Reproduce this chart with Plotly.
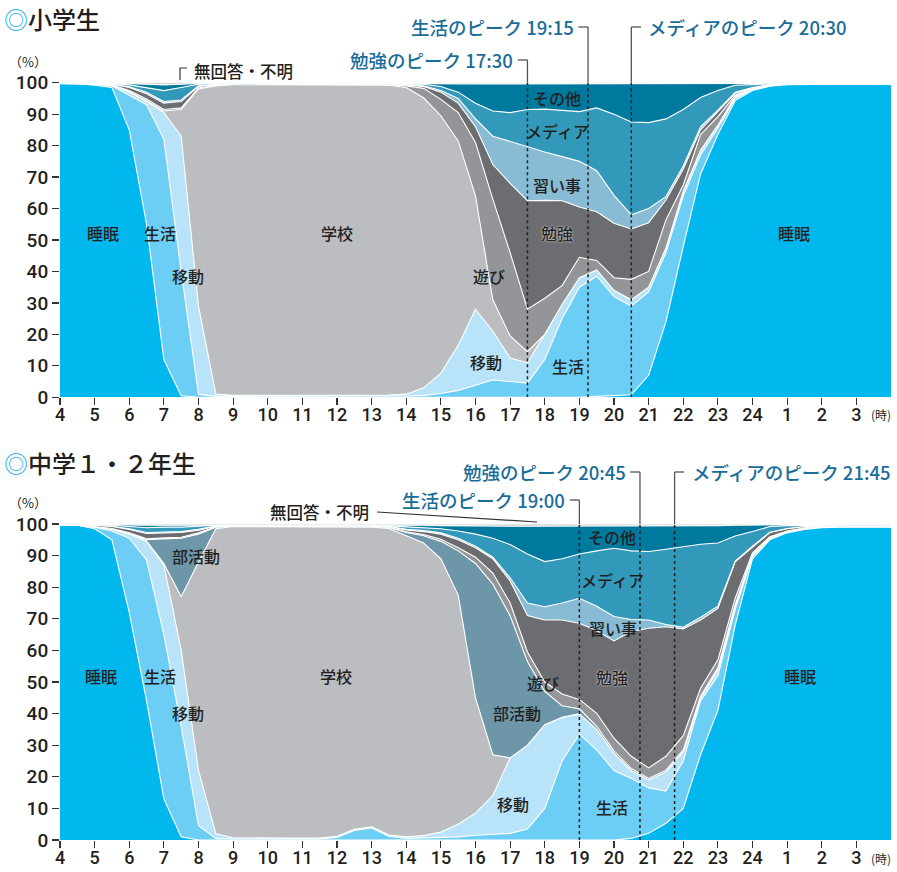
import plotly.graph_objects as go

W, H = 897, 872

HOURS = [4, 4.5, 5, 5.5, 6, 6.5, 7, 7.5, 8, 8.5, 9, 9.5, 10, 10.5, 11, 11.5,
         12, 12.5, 13, 13.5, 14, 14.5, 15, 15.5, 16, 16.5, 17, 17.5, 18, 18.5,
         19, 19.5, 20, 20.5, 21, 21.5, 22, 22.5, 23, 23.5, 24, 24.5, 25, 25.5,
         26, 26.5, 27, 27.5, 28]
TICK_VALS = [4, 5, 6, 7, 8, 9, 10, 11, 12, 13, 14, 15, 16, 17, 18, 19, 20, 21,
             22, 23, 24, 25, 26, 27]
TICK_TEXT = ["4", "5", "6", "7", "8", "9", "10", "11", "12", "13", "14", "15",
             "16", "17", "18", "19", "20", "21", "22", "23", "24", "1", "2", "3"]

# ---- 小学生: cumulative share (%) up to the top of each activity ----
ELEM_SLEEP = [99.7, 99.7, 99.2, 98.5, 85, 55, 12, 0.5, 0, 0, 0, 0, 0, 0, 0, 0,
              0, 0, 0, 0, 0, 0, 0, 0, 0, 0, 0, 0, 0, 0, 0, 0.3, 0.5, 0.8, 7, 24,
              48, 71, 83.5, 94.3, 97.5, 98.9, 99.4, 99.5, 99.5, 99.5, 99.5, 99.5, 99.5]
ELEM_LIFE = [99.8, 99.8, 99.5, 99.0, 96, 93, 82, 40, 1, 0.3, 0.3, 0.3, 0.3, 0.3,
             0.3, 0.3, 0.3, 0.3, 0.3, 0.3, 0.4, 0.6, 1.2, 2.2, 3.9, 5.5, 5, 4.5,
             12, 25, 35, 38.5, 32, 29, 33.5, 46, 64, 77, 85.5, 95, 97.8, 99.1,
             99.5, 99.65, 99.65, 99.65, 99.65, 99.65, 99.65]
ELEM_MOVE = [99.8, 99.8, 99.6, 99.2, 97, 94, 90.5, 83, 29, 1, 0.6, 0.6, 0.6, 0.6,
             0.6, 0.6, 0.6, 0.6, 0.6, 0.7, 1.0, 3.0, 7.7, 16.5, 28, 21, 12.5, 11,
             20, 29.5, 38, 40.5, 34, 31, 35, 47.5, 65.5, 78.5, 86.5, 95.6, 98, 99.2,
             99.6, 99.7, 99.7, 99.7, 99.7, 99.7, 99.7]
ELEM_SCHOOL = [99.8, 99.8, 99.6, 99.2, 97.2, 94.3, 91, 91.5, 98, 99, 99.4, 99.4,
               99.4, 99.4, 99.4, 99.4, 99.4, 99.4, 99.4, 99.2, 98.5, 95.2, 89.5,
               81.5, 64, 31, 19.5, 14.5, 20, 29.5, 38, 40.5, 34, 31, 35, 47.5,
               65.5, 78.5, 86.5, 95.6, 98, 99.2, 99.6, 99.7, 99.7, 99.7, 99.7, 99.7, 99.7]
ELEM_PLAY = [99.8, 99.8, 99.6, 99.3, 97.5, 94.8, 91.5, 92, 98.3, 99.2, 99.5, 99.5,
             99.5, 99.5, 99.5, 99.5, 99.5, 99.5, 99.5, 99.4, 99.0, 98.2, 94.7, 90.5,
             81, 63, 46, 28, 31.5, 35.5, 44.5, 43.5, 38, 37.5, 40, 56.4, 67.5, 83.5,
             89.2, 96, 98.2, 99.3, 99.6, 99.7, 99.7, 99.7, 99.7, 99.7, 99.7]
ELEM_STUDY = [99.8, 99.8, 99.7, 99.5, 98.5, 96.5, 93.5, 94, 98.8, 99.4, 99.6, 99.6,
              99.6, 99.6, 99.6, 99.6, 99.6, 99.6, 99.6, 99.5, 99.3, 98.8, 97.0, 93.5,
              86, 74, 68, 62.5, 62.6, 62.5, 60.5, 59, 55.3, 53.5, 55.5, 62.7, 72.5, 85,
              90.8, 96.6, 98.4, 99.4, 99.65, 99.7, 99.7, 99.7, 99.7, 99.7, 99.7]
ELEM_LESSON = [99.8, 99.8, 99.7, 99.5, 98.7, 97, 94, 94.5, 99, 99.5, 99.6, 99.6,
               99.6, 99.6, 99.6, 99.6, 99.6, 99.6, 99.6, 99.6, 99.4, 99.0, 97.5, 95,
               88.5, 83, 81.3, 79.8, 78, 76.5, 75, 72, 64.2, 58, 60, 63.8, 73.5, 86,
               91.3, 97, 98.5, 99.4, 99.65, 99.7, 99.7, 99.7, 99.7, 99.7, 99.7]
ELEM_MEDIA = [99.85, 99.85, 99.8, 99.7, 99.3, 98.5, 97.5, 98.5, 99.5, 99.7, 99.7,
              99.7, 99.7, 99.7, 99.7, 99.7, 99.7, 99.7, 99.7, 99.7, 99.6, 99.5, 98.8,
              97, 93.5, 91, 90.5, 91.5, 91.6, 91.2, 90.8, 92, 90, 87.5, 87.3, 88.5,
              91.5, 95.3, 97.5, 99.2, 99.5, 99.6, 99.75, 99.8, 99.8, 99.8, 99.8, 99.8, 99.8]
ELEM_OTHER = [99.9, 99.9, 99.9, 99.85, 99.7, 99.5, 99.3, 99.5, 99.8, 99.9, 99.85,
              99.85, 99.85, 99.85, 99.85, 99.85, 99.85, 99.85, 99.85, 99.85, 99.8,
              99.75, 99.7, 99.6, 99.6, 99.6, 99.6, 99.6, 99.6, 99.6, 99.6, 99.6, 99.6,
              99.6, 99.6, 99.6, 99.6, 99.7, 99.7, 99.8, 99.8, 99.85, 99.9, 99.9, 99.9,
              99.9, 99.9, 99.9, 99.9]

# ---- 中学1・2年生: cumulative share (%) up to the top of each activity ----
JR_SLEEP = [99.6, 99.6, 98.5, 95, 72, 44, 13, 1, 0, 0, 0, 0, 0, 0, 0, 0, 0, 0,
            0, 0, 0, 0, 0, 0, 0, 0, 0, 0, 0, 0, 0, 0, 0, 0.5, 2.1, 5.3, 10, 27,
            41, 68, 89, 95, 97.2, 98.3, 98.8, 99, 99, 99, 99]
JR_LIFE = [99.6, 99.6, 99.0, 97.8, 95.5, 88.6, 65, 36, 4.5, 0.5, 0.3, 0.3, 0.3,
           0.3, 0.3, 0.3, 0.8, 3, 3.8, 1.2, 0.5, 0.6, 0.8, 1, 1.5, 1.8, 2.1, 3.5,
           10, 25, 33.5, 28.5, 22, 19.5, 16.5, 15.5, 25, 44, 52, 73, 89.8, 95.4,
           97.5, 98.6, 99.1, 99.2, 99.2, 99.2, 99.2]
JR_MOVE = [99.6, 99.6, 99.1, 98.4, 96.8, 94.5, 87, 60, 22, 2, 0.7, 0.6, 0.6, 0.6,
           0.6, 0.6, 1.2, 3.4, 4.2, 1.6, 1.0, 1.4, 2.5, 5, 8.5, 14, 26, 30, 36.5,
           38.8, 40, 35, 27.4, 22, 19, 21.6, 28, 45, 54, 74, 90.2, 95.6, 97.6, 98.7,
           99.2, 99.3, 99.3, 99.3, 99.3]
JR_SCHOOL = [99.6, 99.6, 99.1, 98.4, 96.8, 94.6, 87.5, 77, 88, 98.5, 99.2, 99.2,
             99.2, 99.2, 99.2, 99.2, 99.2, 99.2, 99.0, 98.6, 96.2, 94, 89, 77.5, 45,
             27, 26, 30, 36.5, 38.8, 40, 35, 27.4, 22, 19, 21.6, 28, 45, 54, 74,
             90.2, 95.6, 97.6, 98.7, 99.2, 99.3, 99.3, 99.3, 99.3]
JR_CLUB = [99.6, 99.6, 99.1, 98.5, 97, 95, 95.3, 95.5, 96.8, 99, 99.3, 99.3, 99.3,
           99.3, 99.3, 99.3, 99.3, 99.3, 99.2, 98.9, 97.3, 96.3, 94.5, 91.5, 87.5,
           81, 71, 56.5, 47, 42.5, 41.5, 36, 28.2, 22.6, 19.5, 22.1, 28.5, 45.5,
           54.5, 74.5, 90.3, 95.7, 97.6, 98.7, 99.2, 99.3, 99.3, 99.3, 99.3]
JR_PLAY = [99.6, 99.6, 99.2, 98.6, 97.2, 95.3, 95.6, 95.8, 97.2, 99.1, 99.4, 99.4,
           99.4, 99.4, 99.4, 99.4, 99.4, 99.4, 99.3, 99.0, 97.5, 96.7, 95.2, 92.5,
           89.5, 84.5, 75, 59.5, 50, 46.2, 44.5, 40.1, 32.2, 26.5, 22.8, 26.5, 33,
           48, 57, 76.5, 90.9, 96, 97.8, 98.8, 99.3, 99.4, 99.4, 99.4, 99.4]
JR_STUDY = [99.7, 99.7, 99.6, 99.2, 98.3, 97, 97.2, 97.3, 98, 99.3, 99.5, 99.5,
            99.5, 99.5, 99.5, 99.5, 99.5, 99.5, 99.4, 99.2, 98.1, 97.6, 96.8, 95,
            92.5, 89, 82, 71, 69.6, 69.6, 68.6, 66.2, 63, 66, 67, 67.5, 66.8, 69.6,
            73.3, 88, 92.8, 97.3, 98.5, 99.2, 99.4, 99.4, 99.4, 99.4, 99.4]
JR_LESSON = [99.7, 99.7, 99.6, 99.3, 98.5, 97.3, 97.5, 97.6, 98.3, 99.4, 99.5,
             99.5, 99.5, 99.5, 99.5, 99.5, 99.5, 99.5, 99.5, 99.3, 98.3, 97.9, 97.2,
             95.5, 93, 89.5, 83, 75, 73.8, 75, 76.5, 74, 70.7, 69.8, 69.6, 68.2,
             67.3, 70.5, 74, 88.3, 93, 97.4, 98.6, 99.2, 99.4, 99.45, 99.45, 99.45, 99.45]
JR_MEDIA = [99.8, 99.8, 99.8, 99.6, 99.2, 98.8, 99, 99, 99.3, 99.6, 99.6, 99.6,
            99.6, 99.6, 99.6, 99.6, 99.6, 99.6, 99.6, 99.5, 99.1, 98.9, 98.5, 97.8,
            96.8, 95.5, 93.5, 90.5, 88.1, 89, 90.5, 91.5, 92.3, 91.5, 91.3, 92, 92.8,
            93.6, 94, 96.2, 97.6, 99.2, 99.5, 99.6, 99.6, 99.6, 99.6, 99.6, 99.6]
JR_OTHER = [99.9, 99.9, 99.9, 99.9, 99.7, 99.6, 99.6, 99.6, 99.7, 99.8, 99.8, 99.8,
            99.8, 99.8, 99.8, 99.8, 99.8, 99.8, 99.8, 99.8, 99.6, 99.6, 99.5, 99.4,
            99.3, 99.3, 99.3, 99.3, 99.3, 99.3, 99.3, 99.3, 99.3, 99.3, 99.3, 99.3,
            99.4, 99.4, 99.5, 99.6, 99.6, 99.7, 99.8, 99.85, 99.85, 99.85, 99.85,
            99.85, 99.85]
TOTAL = [100] * len(HOURS)

COLORS = {
    "睡眠": "#00b8ee", "生活": "#6ccef5", "移動": "#b8e3f8", "学校": "#bbbdc0",
    "部活動": "#6d97a9", "遊び": "#939598", "勉強": "#6c6d71", "習い事": "#88bcd5",
    "メディア": "#3399bb", "その他": "#00799f", "無回答・不明": "#c9cacc",
}

ELEM_LAYERS = [("睡眠", ELEM_SLEEP), ("生活", ELEM_LIFE), ("移動", ELEM_MOVE),
               ("学校", ELEM_SCHOOL), ("遊び", ELEM_PLAY), ("勉強", ELEM_STUDY),
               ("習い事", ELEM_LESSON), ("メディア", ELEM_MEDIA), ("その他", ELEM_OTHER),
               ("無回答・不明", TOTAL)]
JR_LAYERS = [("睡眠", JR_SLEEP), ("生活", JR_LIFE), ("移動", JR_MOVE),
             ("学校", JR_SCHOOL), ("部活動", JR_CLUB), ("遊び", JR_PLAY),
             ("勉強", JR_STUDY), ("習い事", JR_LESSON), ("メディア", JR_MEDIA),
             ("その他", JR_OTHER), ("無回答・不明", TOTAL)]

ELEM_PEAKS = [("勉強のピーク 17:30", 17.5), ("生活のピーク 19:15", 19.25),
              ("メディアのピーク 20:30", 20.5)]
JR_PEAKS = [("生活のピーク 19:00", 19.0), ("勉強のピーク 20:45", 20.75),
            ("メディアのピーク 21:45", 21.75)]


def px(x):
    return x / W


def py(y):
    return 1 - y / H


JP = "Noto Sans CJK JP"
NUM = "Roboto, Noto Sans CJK JP"
TXT = "#231f20"
PEAK_C = "#1a6d99"

fig = go.Figure()
for layers, xa, ya in [(ELEM_LAYERS, "x", "y"), (JR_LAYERS, "x2", "y2")]:
    for i, (name, vals) in enumerate(layers):
        fig.add_trace(go.Scatter(
            x=HOURS, y=vals, xaxis=xa, yaxis=ya, mode="lines", name=name,
            line=dict(color="white", width=1.1),
            fill="tozeroy" if i == 0 else "tonexty",
            fillcolor=COLORS[name], hoverinfo="skip", showlegend=False))

XDOM = [px(60), px(891)]
TOP_DOM = [py(397.3), py(82.7)]
BOT_DOM = [py(840), py(524)]

xax = dict(range=[4, 28], domain=XDOM, tickvals=TICK_VALS, ticktext=TICK_TEXT,
           ticks="outside", ticklen=7, tickwidth=1.2, tickcolor="#333",
           showgrid=False, zeroline=False, showline=False, automargin=False,
           ticklabelstandoff=-6,
           tickfont=dict(family=NUM, size=18, color=TXT, weight=500))
yax = dict(range=[0, 100], tickvals=list(range(0, 101, 10)), ticks="outside",
           ticklen=7, tickwidth=1.2, tickcolor="#333", showgrid=False,
           zeroline=False, showline=False, automargin=False,
           tickfont=dict(family=NUM, size=19, color=TXT, weight=500))

fig.update_layout(
    template="none",
    width=W, height=H, margin=dict(l=0, r=0, t=0, b=0, autoexpand=False),
    paper_bgcolor="white", plot_bgcolor="white",
    xaxis=dict(xax, anchor="y"), yaxis=dict(yax, domain=TOP_DOM, anchor="x"),
    xaxis2=dict(xax, anchor="y2"), yaxis2=dict(yax, domain=BOT_DOM, anchor="x2"),
)

ann = []
shapes = []


def label(x, y, text, size=16, color=TXT, xanchor="center", shadow=None,
          family=JP, weight=500):
    f = dict(family=family, size=size, color=color, weight=weight)
    if shadow:
        f["shadow"] = shadow
    ann.append(dict(x=px(x), y=py(y), xref="paper", yref="paper", text=text,
                    showarrow=False, xanchor=xanchor, yanchor="middle", font=f))


# titles
label(2, 18, "<span style='color:#35b5e5'>◎</span>小学生", size=24, xanchor="left")
label(2, 462, "<span style='color:#35b5e5'>◎</span>中学１・２年生", size=24, xanchor="left")
label(28, 61, "（%）", size=13, weight=400)
label(28, 502, "（%）", size=13, weight=400)
label(881, 414, "(時)", size=12, weight=400)
label(881, 858, "(時)", size=12, weight=400)

# area labels — top
for x, y, t in [(103, 233, "睡眠"), (160, 233, "生活"), (188, 276, "移動"),
                (337, 233, "学校"), (489, 276, "遊び"), (486, 362, "移動"),
                (568, 366, "生活"), (557, 185, "習い事"),
                (557, 131, "メディア"), (557, 98, "その他"), (794, 233, "睡眠")]:
    label(x, y, t)
label(557, 233, "勉強", shadow="0px 0px 2px white")
# area labels — bottom
for x, y, t in [(101, 676, "睡眠"), (160, 676, "生活"), (188, 713, "移動"),
                (196, 556, "部活動"), (336, 676, "学校"), (517, 713, "部活動"),
                (543, 683, "遊び"), (613, 628, "習い事"), (612, 580, "メディア"),
                (612, 537, "その他"), (513, 804, "移動"), (612, 807, "生活"),
                (800, 676, "睡眠")]:
    label(x, y, t)
label(612, 677, "勉強", shadow="0px 0px 2px white")

# 無回答・不明
label(192, 71, "無回答・不明", size=16.5, xanchor="left")
shapes.append(dict(type="path", xref="paper", yref="paper",
                   path=f"M {px(180)} {py(80)} L {px(180)} {py(68)} L {px(187)} {py(68)}",
                   line=dict(color="#333", width=1.2)))
label(371, 512, "無回答・不明", size=16.5, xanchor="right")
shapes.append(dict(type="line", xref="paper", yref="paper", x0=px(377), y0=py(512),
                   x1=px(537), y1=py(522), line=dict(color="#333", width=1.2)))


def peak(hour, text, ya, top_px, label_y, side):
    xr = "x" if ya == "y" else "x2"
    shapes.append(dict(type="line", xref=xr, yref=ya,
                       x0=hour, x1=hour, y0=0, y1=100,
                       line=dict(color="#222", width=1.5, dash="3px,3px")))
    shapes.append(dict(type="line", xref=xr, yref="paper", x0=hour, x1=hour,
                       y0=py(top_px), y1=py(label_y), line=dict(color="#555", width=1.3)))
    dx = 0.28 if side == "left" else -0.28
    shapes.append(dict(type="line", xref=xr, yref="paper", x0=hour, x1=hour + dx,
                       y0=py(label_y), y1=py(label_y), line=dict(color="#555", width=1.3)))
    xpix = 60 + (hour - 4) * 34.625
    if side == "left":
        label(xpix + 15, label_y, text, size=18.5, color=PEAK_C, xanchor="left")
    else:
        label(xpix - 12, label_y, text, size=18.5, color=PEAK_C, xanchor="right")


peak(ELEM_PEAKS[0][1], ELEM_PEAKS[0][0], "y", 82.7, 60, "right")
peak(ELEM_PEAKS[1][1], ELEM_PEAKS[1][0], "y", 82.7, 27, "right")
peak(ELEM_PEAKS[2][1], ELEM_PEAKS[2][0], "y", 82.7, 27, "left")
peak(JR_PEAKS[0][1], JR_PEAKS[0][0], "y2", 524, 500, "right")
peak(JR_PEAKS[1][1], JR_PEAKS[1][0], "y2", 524, 472, "right")
peak(JR_PEAKS[2][1], JR_PEAKS[2][0], "y2", 524, 472, "left")

fig.update_layout(annotations=ann, shapes=shapes)
fig.write_html("out.html", config={"displayModeBar": False, "staticPlot": True},
               post_script="document.body.style.margin='0px';")
